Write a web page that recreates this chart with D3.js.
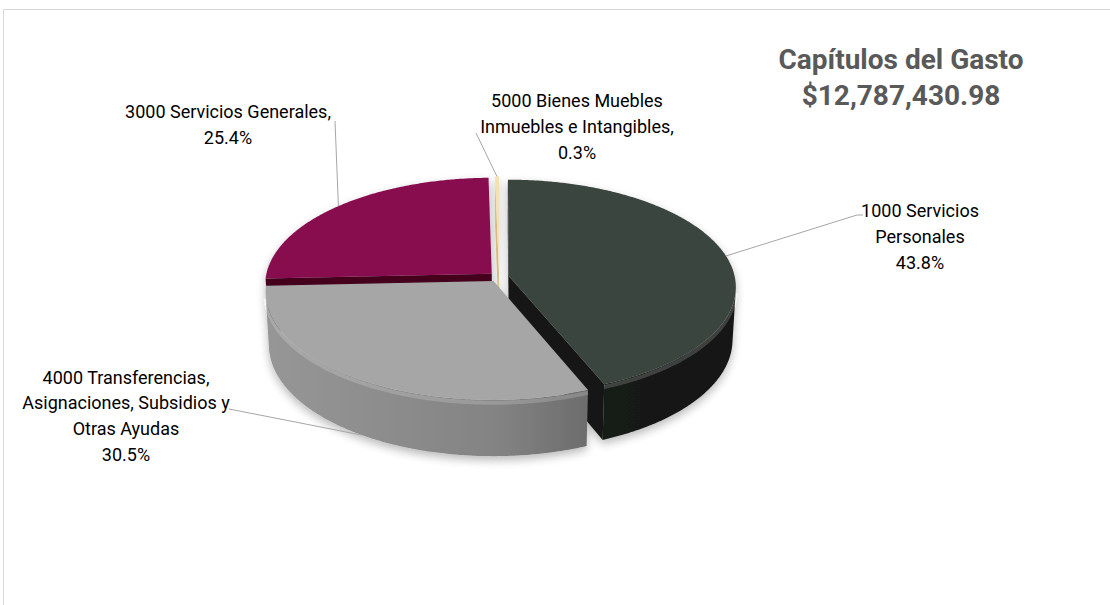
<!DOCTYPE html>
<html>
<head>
<meta charset="utf-8">
<script src="https://cdn.jsdelivr.net/npm/d3@7"></script>
<style>
  html, body { margin: 0; padding: 0; background: #fff; }
  svg { display: block; font-family: Roboto, "Noto Sans", sans-serif; }
</style>
</head>
<body>
<svg id="chart" width="1110" height="605"></svg>
<script>
// Data, in the clockwise order the slices appear (starting at 12 o'clock)
const categories = ["1000", "4000", "3000", "5000"];
const shares = [43.8, 30.5, 25.4, 0.3];
const labelLines = [
  ["1000 Servicios", "Personales"],
  ["4000 Transferencias,", "Asignaciones, Subsidios y", "Otras Ayudas"],
  ["3000 Servicios Generales,"],
  ["5000 Bienes Muebles", "Inmuebles e Intangibles,"]
];
const titleLines = ["Capítulos del Gasto", "$12,787,430.98"];

// Styles per slice
const sliceStyle = [
  { top: "#3b4440", side: ["#262b28", "#1c201e", "#121513"], face: "#151917" },
  { top: "#a6a6a6", side: ["#969696", "#838383", "#4a4a4a"], face: "#6a6a6a" },
  { top: "#870c4f", side: ["#6a0a3e", "#55082f", "#3a0420"], face: "#45001f" },
  { top: "#f7dfb4", side: ["#e0c493", "#d2b27c", "#b99460"], face: "#d8b982" }
];

// Label layout: centre x, first baseline, leader start and optional elbow
const labelLayout = [
  { x: 920, y: 217, lead: [863, 215], elbow: [857, 215], anchorY: 0 },
  { x: 126, y: 383.5, lead: [229, 409], elbow: null, anchorY: -1 },
  { x: 228, y: 118, lead: [335, 121], elbow: null, anchorY: 0 },
  { x: 577, y: 107, lead: [476, 133], elbow: null, anchorY: 0 }
];

const CFG = { cx: 499, cy: 277, R: 226, H: 60, D: 2000, sinPhi: 0.47, explode: 10, lineH: 25.8 };
const cosPhi = Math.sqrt(1 - CFG.sinPhi * CFG.sinPhi);

// Simple perspective camera looking down on the pie
function project(X, Y, Z) {
  const k = CFG.D / (CFG.D - Z * cosPhi - Y * CFG.sinPhi);
  return [CFG.cx + X * k, CFG.cy - (Y * cosPhi - Z * CFG.sinPhi) * k];
}
function rim(a, y, o, r = CFG.R) {
  return project(o[0] + r * Math.sin(a), y, o[1] - r * Math.cos(a));
}
function samples(a0, a1) {
  const n = Math.max(2, Math.ceil((a1 - a0) / (Math.PI / 360)));
  return d3.range(n + 1).map(i => a0 + (a1 - a0) * i / n);
}
function wallVisible(a, o) {
  const px = o[0] + CFG.R * Math.sin(a), pz = o[1] - CFG.R * Math.cos(a);
  return -px * Math.sin(a) + (CFG.D * cosPhi - pz) * (-Math.cos(a)) > 0;
}

const svg = d3.select("#chart");
const defs = svg.append("defs");

// Frame
svg.append("rect")
  .attr("x", 3.5).attr("y", 9.5)
  .attr("width", 1300).attr("height", 800)
  .attr("fill", "none").attr("stroke", "#d9d9d9");

// Soft shadow for the pie
const filter = defs.append("filter").attr("id", "shadow")
  .attr("x", "-20%").attr("y", "-20%").attr("width", "140%").attr("height", "150%");
filter.append("feGaussianBlur").attr("in", "SourceAlpha").attr("stdDeviation", 5);
filter.append("feOffset").attr("dy", 4).attr("result", "blur");
filter.append("feComponentTransfer").attr("in", "blur").attr("result", "soft")
  .append("feFuncA").attr("type", "linear").attr("slope", 0.28);
const merge = filter.append("feMerge");
merge.append("feMergeNode").attr("in", "soft");
merge.append("feMergeNode").attr("in", "SourceGraphic");

const arcs = d3.pie().sort(null).value(d => d)(shares);
arcs.forEach((d, i) => {
  const m = (d.startAngle + d.endAngle) / 2;
  d.offset = [CFG.explode * Math.sin(m), -CFG.explode * Math.cos(m)];
  d.mid = m;
  d.style = sliceStyle[i];
  const g = defs.append("linearGradient").attr("id", "side" + i)
    .attr("gradientUnits", "userSpaceOnUse")
    .attr("x1", CFG.cx - CFG.R).attr("x2", CFG.cx + CFG.R).attr("y1", 0).attr("y2", 0);
  g.selectAll("stop").data(d.style.side).join("stop")
    .attr("offset", (c, j) => j / (d.style.side.length - 1))
    .attr("stop-color", c => c);
});

const line = d3.line();
const pieG = svg.append("g").attr("filter", "url(#shadow)");
const faceG = pieG.append("g");
const wallG = pieG.append("g");
const topG = pieG.append("g");

// Radial faces (cut sides), only those facing the camera
arcs.forEach((d, i) => {
  const o = d.offset;
  const faces = [
    { a: d.startAngle, n: [-Math.cos(d.startAngle), -Math.sin(d.startAngle)] },
    { a: d.endAngle, n: [Math.cos(d.endAngle), Math.sin(d.endAngle)] }
  ];
  faces.forEach(f => {
    const vis = (-o[0]) * f.n[0] + (CFG.D * cosPhi - o[1]) * f.n[1];
    if (vis <= 0) return;
    const pts = [project(o[0], 0, o[1]), rim(f.a, 0, o), rim(f.a, -CFG.H, o), project(o[0], -CFG.H, o[1])];
    faceG.append("path").attr("d", line(pts) + "Z").attr("fill", d.style.face);
  });
});

// Outer walls
arcs.forEach((d, i) => {
  const o = d.offset;
  const runs = [];
  let cur = null;
  samples(d.startAngle, d.endAngle).forEach(a => {
    if (wallVisible(a, o)) { if (!cur) { cur = []; runs.push(cur); } cur.push(a); }
    else cur = null;
  });
  runs.filter(r => r.length > 1).forEach(r => {
    const topPts = r.map(a => rim(a, 0, o));
    const botPts = r.slice().reverse().map(a => rim(a, -CFG.H, o));
    wallG.append("path").attr("d", line(topPts.concat(botPts)) + "Z").attr("fill", `url(#side${i})`);
    // bevel highlight just under the rim
    wallG.append("path").attr("d", line(r.map(a => rim(a, -3, o))))
      .attr("fill", "none").attr("stroke", "#fff").attr("stroke-opacity", 0.18).attr("stroke-width", 4);
  });
});

// Top faces
arcs.forEach((d, i) => {
  const o = d.offset;
  const pts = [project(o[0], 0, o[1])].concat(samples(d.startAngle, d.endAngle).map(a => rim(a, 0, o)));
  topG.append("path").attr("d", line(pts) + "Z").attr("fill", d.style.top);
});

// Labels
const fmt = v => d3.format(".1f")(v) + "%";
const labG = svg.append("g").attr("font-size", 18).attr("fill", "#000").attr("text-anchor", "middle");
arcs.forEach((d, i) => {
  const L = labelLayout[i];
  const lines = labelLines[i].concat([fmt(shares[i])]);
  const t = labG.append("text").attr("x", L.x).attr("y", L.y);
  lines.forEach((s, j) => t.append("tspan").attr("x", L.x).attr("dy", j ? CFG.lineH : 0).text(s));
  const anchor = rim(d.mid, L.anchorY * CFG.H, d.offset);
  const pts = [L.lead].concat(L.elbow ? [L.elbow] : [], [anchor]);
  svg.append("path").attr("d", line(pts)).attr("fill", "none")
    .attr("stroke", "#a6a6a6").attr("stroke-width", 1);
});

// Title
const title = svg.append("text").attr("text-anchor", "middle")
  .attr("font-size", 28).attr("font-weight", 700).attr("fill", "#595959");
titleLines.forEach((s, j) => title.append("tspan").attr("x", 901).attr("y", 69 + j * 36).text(s));
</script>
</body>
</html>
